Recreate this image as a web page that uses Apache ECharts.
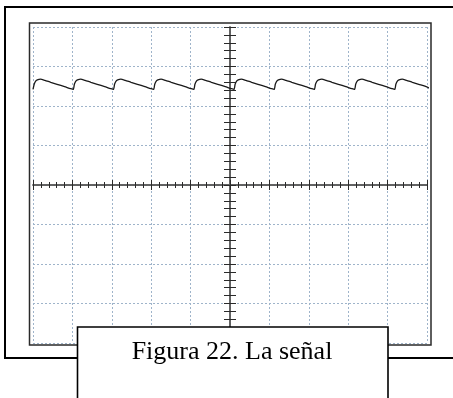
<!DOCTYPE html>
<html>
<head>
<meta charset="utf-8">
<title>Figura 22. La señal</title>
<script src="https://cdn.jsdelivr.net/npm/echarts@6/dist/echarts.min.js"></script>
<style>
  html, body { margin: 0; padding: 0; background: #ffffff; }
  #chart { width: 453px; height: 398px; }
</style>
</head>
<body>
<div id="chart"></div>
<script>
// Oscilloscope screen: 10 horizontal x 8 vertical divisions, origin at centre.
const timeRange = [-5, 5];
const levelRange = [-4, 4];

// Trace: rectified, capacitor-smoothed signal (time and level in divisions).
const traceTime = [
  -5.00, -4.97, -4.94, -4.89, -4.81, -4.70, -4.55, -4.39, -4.20, -4.05,
  -3.98, -3.95, -3.92, -3.87, -3.79, -3.68, -3.53, -3.37, -3.18, -3.03,
  -2.96, -2.93, -2.90, -2.85, -2.77, -2.66, -2.51, -2.35, -2.16, -2.01,
  -1.94, -1.91, -1.88, -1.83, -1.75, -1.64, -1.49, -1.33, -1.14, -0.99,
  -0.92, -0.89, -0.86, -0.81, -0.73, -0.62, -0.47, -0.31, -0.12, 0.03,
  0.10, 0.13, 0.16, 0.21, 0.29, 0.40, 0.55, 0.71, 0.90, 1.05,
  1.12, 1.15, 1.18, 1.23, 1.31, 1.42, 1.57, 1.73, 1.92, 2.07,
  2.14, 2.17, 2.20, 2.25, 2.33, 2.44, 2.59, 2.75, 2.94, 3.09,
  3.16, 3.19, 3.22, 3.27, 3.35, 3.46, 3.61, 3.77, 3.96, 4.11,
  4.18, 4.21, 4.24, 4.29, 4.37, 4.48, 4.63, 4.79, 4.98, 5.10
];
const traceLevel = [
  2.42, 2.55, 2.62, 2.66, 2.68, 2.65, 2.60, 2.55, 2.49, 2.44,
  2.42, 2.55, 2.62, 2.66, 2.68, 2.65, 2.60, 2.55, 2.49, 2.44,
  2.42, 2.55, 2.62, 2.66, 2.68, 2.65, 2.60, 2.55, 2.49, 2.44,
  2.42, 2.55, 2.62, 2.66, 2.68, 2.65, 2.60, 2.55, 2.49, 2.44,
  2.42, 2.55, 2.62, 2.66, 2.68, 2.65, 2.60, 2.55, 2.49, 2.44,
  2.42, 2.55, 2.62, 2.66, 2.68, 2.65, 2.60, 2.55, 2.49, 2.44,
  2.42, 2.55, 2.62, 2.66, 2.68, 2.65, 2.60, 2.55, 2.49, 2.44,
  2.42, 2.55, 2.62, 2.66, 2.68, 2.65, 2.60, 2.55, 2.49, 2.44,
  2.42, 2.55, 2.62, 2.66, 2.68, 2.65, 2.60, 2.55, 2.49, 2.44,
  2.42, 2.55, 2.62, 2.66, 2.68, 2.65, 2.60, 2.55, 2.49, 2.43
];

const captionText = 'Figura 22. La señal';

const traceData = traceTime.map((t, i) => [t, traceLevel[i]]);

const gridColor = '#9fb4ca';
const axisColor = '#5a5a5a';
const tickColor = '#2a2a2a';

// Centre crosshair: two overlapping axes per direction give ticks on both sides.
function centreAxis(range, inside, tickLen, minorLen, withGrid) {
  return {
    type: 'value',
    min: range[0],
    max: range[1],
    interval: 1,
    axisLine: { show: true, onZero: true, lineStyle: { color: axisColor, width: 1.5 } },
    axisTick: { show: true, inside: inside, length: tickLen, lineStyle: { color: tickColor, width: 1 } },
    minorTick: { show: true, splitNumber: 5, length: minorLen, lineStyle: { color: tickColor, width: 1 } },
    axisLabel: { show: false },
    splitLine: { show: withGrid, lineStyle: { color: gridColor, width: 1, type: [2, 2] } },
    minorSplitLine: { show: false }
  };
}

const chart = echarts.init(document.getElementById('chart'), null, { renderer: 'canvas' });

chart.setOption({
  backgroundColor: '#ffffff',
  animation: false,
  grid: { left: 33, top: 27, width: 394, height: 316, show: false },
  xAxis: [
    Object.assign(centreAxis(timeRange, false, 5, 3, true), { position: 'bottom' }),
    Object.assign(centreAxis(timeRange, true, 5, 3, false), { position: 'bottom' })
  ],
  yAxis: [
    Object.assign(centreAxis(levelRange, false, 6, 6, true), { position: 'left' }),
    Object.assign(centreAxis(levelRange, true, 6, 6, false), { position: 'left' })
  ],
  series: [{
    type: 'line',
    xAxisIndex: 0,
    yAxisIndex: 0,
    data: traceData,
    showSymbol: false,
    smooth: 0.25,
    clip: false,
    lineStyle: { color: '#1a1a1a', width: 1.3 },
    z: 5
  }],
  graphic: [
    {
      type: 'rect',
      z: 1,
      shape: { x: 29.5, y: 23, width: 401.5, height: 322 },
      style: { fill: null, stroke: '#2a2a2a', lineWidth: 1.5 },
      silent: true
    },
    {
      type: 'rect',
      z: 1,
      shape: { x: 5, y: 7, width: 470, height: 351 },
      style: { fill: null, stroke: '#000000', lineWidth: 2 },
      silent: true
    },
    {
      type: 'group',
      z: 100,
      children: [
        {
          type: 'rect',
          z: 100,
          shape: { x: 77.5, y: 327, width: 310.5, height: 80 },
          style: { fill: '#ffffff', stroke: '#000000', lineWidth: 1.6 },
          silent: true
        },
        {
          type: 'text',
          z: 101,
          x: 232,
          y: 352,
          style: {
            text: captionText,
            fill: '#000000',
            font: '26px "Liberation Serif", "Times New Roman", serif',
            align: 'center',
            verticalAlign: 'middle'
          },
          silent: true
        }
      ]
    }
  ]
});
</script>
</body>
</html>
